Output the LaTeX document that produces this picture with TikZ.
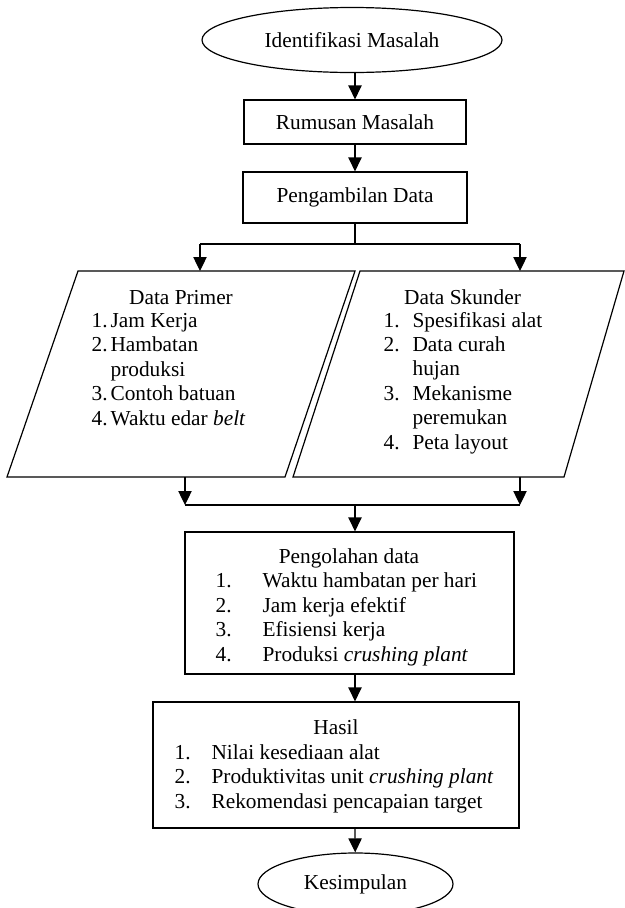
\documentclass[tikz,border=0pt]{standalone}
\usepackage{fontspec}
\setmainfont{Liberation Serif}
\usetikzlibrary{arrows.meta,positioning,shapes.geometric}

\newcommand{\listnum}[2]{\makebox[#1][l]{#2}}

\begin{document}
\begin{tikzpicture}[x=0.75pt, y=-0.75pt, line width=0.9pt,
  font=\fontsize{16}{18.3}\selectfont,
  flowbox/.style={draw, rectangle, inner sep=0pt},
  termnode/.style={draw, ellipse, inner sep=0pt},
  titletext/.style={anchor=base, inner sep=0pt},
  itemtext/.style={anchor=base west, align=left, inner sep=0pt},
  arr/.style={-{Triangle[length=10.5pt, width=10pt]}}]
\useasboundingbox (0,0) rectangle (625,908);
% Terminals and boxes
\node[termnode, minimum width=225pt, minimum height=48.75pt] (ident) at (352,40) {Identifikasi Masalah};
\node[flowbox, minimum width=166.5pt, minimum height=33pt] (rumus) at (355,122) {Rumusan Masalah};
\node[flowbox, minimum width=168pt, minimum height=38.25pt] (ambil) at (355,197.5) {Pengambilan Data};
\node[flowbox, minimum width=246.75pt, minimum height=106.5pt] (olah) at (349.5,603) {};
\node[flowbox, minimum width=274.5pt, minimum height=94.5pt] (hasil) at (336,765) {};
\node[termnode, minimum width=146.25pt, minimum height=46.5pt] (kesim) at (355.5,884) {Kesimpulan};
% Data parallelograms
\draw (7,477) -- (78,271) -- (355,271) -- (285,477) -- cycle;
\draw (293,477) -- (360,271) -- (624,271) -- (564,477) -- cycle;
\coordinate (primerIn) at (200,271);
\coordinate (primerOut) at (185,477);
\coordinate (skunderIn) at (520,271);
\coordinate (skunderOut) at (520,477);
% Texts of the data boxes
\node[titletext] (primerT) at (181,304) {Data Primer};
\node[itemtext] (primerL) at (91,425) {\listnum{14.25pt}{1.}Jam Kerja\\
  \listnum{14.25pt}{2.}Hambatan\\
  \hspace*{14.25pt}produksi\\
  \listnum{14.25pt}{3.}Contoh batuan\\
  \listnum{14.25pt}{4.}Waktu edar \textit{belt}};
\node[titletext] (skunderT) at (462.5,304) {Data Skunder};
\node[itemtext] (skunderL) at (383,449) {\listnum{21.75pt}{1.}Spesifikasi alat\\
  \listnum{21.75pt}{2.}Data curah\\
  \hspace*{21.75pt}hujan\\
  \listnum{21.75pt}{3.}Mekanisme\\
  \hspace*{21.75pt}peremukan\\
  \listnum{21.75pt}{4.}Peta layout};
\node[titletext] (olahT) at (349,563) {Pengolahan data};
\node[itemtext] (olahL) at (215,661) {\listnum{35.25pt}{1.}Waktu hambatan per hari\\
  \listnum{35.25pt}{2.}Jam kerja efektif\\
  \listnum{35.25pt}{3.}Efisiensi kerja\\
  \listnum{35.25pt}{4.}Produksi \textit{crushing plant}};
\node[titletext] (hasilT) at (336,734) {Hasil};
\node[itemtext] (hasilL) at (174,808) {\listnum{27.75pt}{1.}Nilai kesediaan alat\\
  \listnum{27.75pt}{2.}Produktivitas unit \textit{crushing plant}\\
  \listnum{27.75pt}{3.}Rekomendasi pencapaian target};
% Branch points
\coordinate (fork) at (355,244);
\coordinate (forkL) at (200,244);
\coordinate (forkR) at (520,244);
\coordinate (join) at (355,505);
\coordinate (joinL) at (185,505);
\coordinate (joinR) at (520,505);
% Arrows
\draw[arr] (rumus.north |- ident.south) -- (rumus.north);
\draw[arr] (rumus) -- (ambil);
\draw (ambil.south) -- (fork);
\draw (forkL) -- (forkR);
\draw[arr] (forkL) -- (primerIn);
\draw[arr] (forkR) -- (skunderIn);
\draw[arr] (primerOut) -- (joinL);
\draw[arr] (skunderOut) -- (joinR);
\draw (joinL) -- (joinR);
\draw[arr] (join) -- (join |- olah.north);
\draw[arr] (olah.south -| join) -- (hasil.north -| join);
\draw[arr] (hasil.south -| join) -- (kesim);
\end{tikzpicture}
\end{document}
